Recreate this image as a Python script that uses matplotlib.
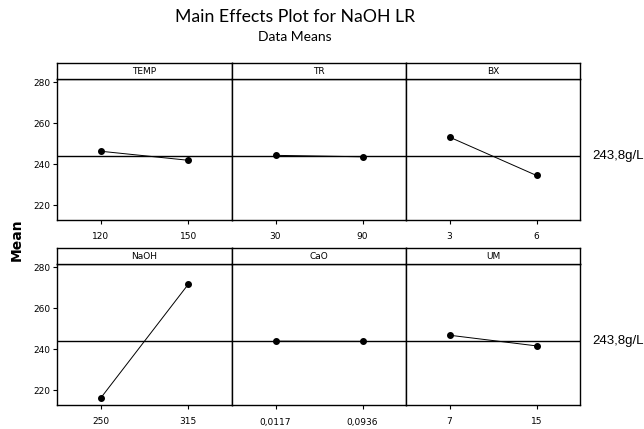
import matplotlib
matplotlib.use("Agg")
import matplotlib.pyplot as plt

# factor names, level labels and data means
factors = ["TEMP", "TR", "BX", "NaOH", "CaO", "UM"]
levels = [["120", "150"], ["30", "90"], ["3", "6"],
          ["250", "315"], ["0,0117", "0,0936"], ["7", "15"]]
means = [[246.3, 241.9], [244.3, 243.6], [253.2, 234.5],
         [216.2, 271.6], [243.9, 243.8], [246.8, 241.6]]
grand_mean = 243.8
yticks = [220, 240, 260, 280]
ref_label = "243,8g/L"

W, H = 644, 429
plt.rcParams["font.family"] = ["DejaVu Sans"]
fig = plt.figure(figsize=(W / 100, H / 100), dpi=100)

col_x = [57, 232, 406, 580]
rows = [(63, 79, 220), (248, 264, 405)]  # frame top, header bottom, axis bottom
ylo, yhi = 212.8, 281.5


def fx(px):
    return px / W


def fy(py):
    return 1 - py / H


for i, name in enumerate(factors):
    r, c = divmod(i, 3)
    top, hdr, bot = rows[r]
    x0, x1 = col_x[c], col_x[c + 1]

    ax = fig.add_axes([fx(x0), fy(bot), fx(x1 - x0), fy(hdr) - fy(bot)])
    ax.axhline(grand_mean, color="black", lw=1.0, zorder=1)
    ax.plot([0, 1], means[i], color="black", lw=0.7, marker="o",
            markersize=4, zorder=2)
    ax.set_xlim(-0.5, 1.5)
    ax.set_ylim(ylo, yhi)
    ax.set_xticks([0, 1])
    ax.set_xticklabels(levels[i], fontsize=6.5)
    ax.tick_params(axis="x", length=3, width=0.8, pad=6)
    if c == 0:
        ax.set_yticks(yticks)
        ax.tick_params(axis="y", length=3, width=0.8, labelsize=6.5, pad=2)
    else:
        ax.set_yticks([])
    for s in ax.spines.values():
        s.set_linewidth(1.0)

    # strip header with the factor name
    hx = fig.add_axes([fx(x0), fy(hdr), fx(x1 - x0), fy(top) - fy(hdr)])
    hx.set_xticks([])
    hx.set_yticks([])
    for s in hx.spines.values():
        s.set_linewidth(1.0)
    hx.text(0.5, 0.45, name, ha="center", va="center", fontsize=6.5,
            transform=hx.transAxes)

    if c == 2:
        ax.text(1.069, (grand_mean - ylo) / (yhi - ylo), ref_label,
                transform=ax.transAxes, ha="left", va="center", fontsize=9.5,
                family=["Liberation Sans", "DejaVu Sans"])

fig.text(fx(295), fy(17), "Main Effects Plot for NaOH LR", ha="center",
         va="center", fontsize=12.7, family=["Lato", "DejaVu Sans"])
fig.text(fx(295), fy(37), "Data Means", ha="center", va="center",
         fontsize=10, family=["Lato", "DejaVu Sans"])
fig.text(fx(17), fy(240), "Mean", ha="center", va="center", rotation=90,
         fontsize=10, fontweight="bold")

fig.savefig("out.png", dpi=100)
